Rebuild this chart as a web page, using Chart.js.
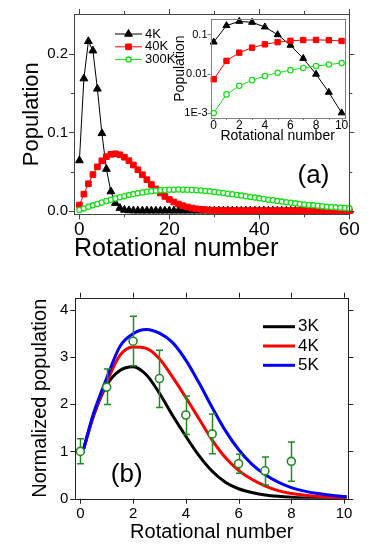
<!DOCTYPE html>
<html lang="en">
<head>
<meta charset="UTF-8">
<title>Rotational population</title>
<script src="https://cdn.jsdelivr.net/npm/chart.js"></script>
<style>
  body { margin: 0; background: #fff; }
  #figure { position: relative; width: 374px; height: 552px; overflow: hidden; }
  #figure canvas { position: absolute; }
  #chart-a { left: 0; top: 0; }
  #chart-inset { left: 165px; top: 5px; }
  #chart-b { left: 0; top: 276px; }
</style>
</head>
<body>
<div id="figure">
  <canvas id="chart-a" width="374" height="276"></canvas>
  <canvas id="chart-inset" width="185" height="145"></canvas>
  <canvas id="chart-b" width="374" height="276"></canvas>
</div>
<script>
// ---- panel (a): population of each rotational level J ----
const rotJ = [0, 1, 2, 3, 4, 5, 6, 7, 8, 9, 10, 11, 12, 13, 14, 15, 16, 17, 18, 19,
  20, 21, 22, 23, 24, 25, 26, 27, 28, 29, 30, 31, 32, 33, 34, 35, 36, 37, 38, 39,
  40, 41, 42, 43, 44, 45, 46, 47, 48, 49, 50, 51, 52, 53, 54, 55, 56, 57, 58, 59, 60];
const pop4K = [0.0641, 0.1687, 0.2163, 0.2044, 0.1556, 0.0988, 0.0532, 0.0245, 0.0097, 0.00335,
  0.0010, 0.0003, 0.0001, 0, 0, 0, 0, 0, 0, 0,
  0, 0, 0, 0, 0, 0, 0, 0, 0, 0, 0, 0, 0, 0, 0, 0, 0, 0, 0, 0,
  0, 0, 0, 0, 0, 0, 0, 0, 0, 0, 0, 0, 0, 0, 0, 0, 0, 0, 0, 0, 0];
const pop40K = [0.0072, 0.0212, 0.0344, 0.0461, 0.0560, 0.0637, 0.0690, 0.0720, 0.0727, 0.0714,
  0.0683, 0.0639, 0.0584, 0.0523, 0.0459, 0.0396, 0.0334, 0.0278, 0.0226, 0.0182,
  0.0143, 0.0111, 0.0085, 0.0064, 0.0047, 0.0034, 0.0024, 0.0017, 0.0012, 0.0008,
  0.0005, 0.0004, 0.0002, 0.0001, 0.0001, 0.0001, 0, 0, 0, 0,
  0, 0, 0, 0, 0, 0, 0, 0, 0, 0, 0, 0, 0, 0, 0, 0, 0, 0, 0, 0, 0];
const pop300K = [0.00099, 0.00296, 0.00491, 0.00683, 0.00871, 0.01055, 0.01232, 0.01402, 0.01564, 0.01717,
  0.0186, 0.0199, 0.0212, 0.0223, 0.0233, 0.0242, 0.0249, 0.0256, 0.0261, 0.0265,
  0.0267, 0.0269, 0.0270, 0.0269, 0.0268, 0.0265, 0.0262, 0.0257, 0.0252, 0.0247,
  0.0240, 0.0234, 0.0226, 0.0218, 0.0210, 0.0202, 0.0193, 0.0185, 0.0176, 0.0167,
  0.0158, 0.0150, 0.0141, 0.0133, 0.0124, 0.0116, 0.0109, 0.0101, 0.0094, 0.0087,
  0.0080, 0.0074, 0.0068, 0.0063, 0.0057, 0.0052, 0.0048, 0.0043, 0.0039, 0.0036, 0.0032];
const tempsA = ['4K', '40K', '300K'];
const insetCount = 11; // the inset shows J = 0..10 on a log scale

// ---- panel (b): measured vs. model, normalized to J = 0 ----
const measJ = [0, 1, 2, 3, 4, 5, 6, 7, 8];
const measPop = [1.00, 2.36, 3.33, 2.54, 1.77, 1.37, 0.74, 0.59, 0.79];
const measLow = [0.74, 1.99, 2.81, 1.93, 1.36, 0.95, 0.54, 0.29, 0.37];
const measHigh = [1.27, 2.74, 3.86, 3.14, 2.17, 1.79, 0.94, 0.88, 1.20];

const curveJ = [0.1, 0.5, 1, 1.5, 2, 2.5, 3, 3.5, 4, 4.5, 5, 5.5, 6, 6.5, 7, 7.5, 8, 8.5, 9, 9.5, 10, 10.1];
const curve3K = [1.00, 1.75, 2.40, 2.71, 2.79, 2.62, 2.23, 1.76, 1.32, 0.91, 0.58, 0.35, 0.21, 0.13, 0.08, 0.05, 0.03, 0.016, 0.009, 0.005, 0.003, 0.002];
const curve4K = [1.00, 1.77, 2.46, 3.03, 3.21, 3.18, 2.96, 2.57, 2.14, 1.69, 1.24, 0.87, 0.60, 0.41, 0.27, 0.17, 0.11, 0.075, 0.05, 0.03, 0.016, 0.013];
const curve5K = [1.00, 1.80, 2.55, 3.22, 3.49, 3.58, 3.50, 3.30, 2.93, 2.45, 1.93, 1.44, 1.04, 0.73, 0.51, 0.35, 0.235, 0.16, 0.11, 0.075, 0.048, 0.043];
const tempsB = ['3K', '4K', '5K'];

// ---- tick values ----
const aTicksX = [0, 20, 40, 60];
const aMinorX = [10, 30, 50];
const aTicksY = [0, 0.1, 0.2];
const aMinorY = [0.05, 0.15];
const insetTicksX = [0, 2, 4, 6, 8, 10];
const insetMinorX = [1, 3, 5, 7, 9];
const insetTicksY = [0.001, 0.01, 0.1];
const insetTickLabelsY = ['1E-3', '0.01', '0.1'];
const bTicksX = [0, 2, 4, 6, 8, 10];
const bTicksY = [0, 1, 2, 3, 4];

const FONT = '"Liberation Sans", Arial, sans-serif';
Chart.defaults.font.family = FONT;
Chart.defaults.color = '#000';

const pts = (xs, ys) => xs.map((x, i) => ({ x, y: ys[i] }));

// frame around the plot area with outward ticks (Origin style)
const frameTicks = {
  id: 'frameTicks',
  afterDatasetsDraw(chart, args, o) {
    const { ctx, chartArea: a } = chart;
    const sx = chart.scales.x, sy = chart.scales.y;
    const snap = v => Math.round(v) + 0.5;
    ctx.save();
    ctx.strokeStyle = o.color;
    ctx.lineWidth = 1;
    ctx.strokeRect(snap(a.left), snap(a.top), Math.round(a.right - a.left), Math.round(a.bottom - a.top));
    ctx.beginPath();
    const xt = (vals, len) => vals.forEach(v => {
      const p = snap(sx.getPixelForValue(v));
      ctx.moveTo(p, a.bottom); ctx.lineTo(p, a.bottom + len);
      if (o.mirror) { ctx.moveTo(p, a.top); ctx.lineTo(p, a.top - len); }
    });
    const yt = (vals, len) => vals.forEach(v => {
      const p = snap(sy.getPixelForValue(v));
      ctx.moveTo(a.left, p); ctx.lineTo(a.left - len, p);
      if (o.mirror) { ctx.moveTo(a.right, p); ctx.lineTo(a.right + len, p); }
    });
    xt(o.xMajor, o.major); xt(o.xMinor || [], o.minor);
    yt(o.yMajor, o.major); yt(o.yMinor || [], o.minor);
    ctx.stroke();
    ctx.restore();
  }
};

// legend drawn inside the plot, line sample with optional marker
const keyBox = {
  id: 'keyBox',
  afterDraw(chart, args, o) {
    const ctx = chart.ctx;
    ctx.save();
    ctx.font = o.font;
    ctx.textBaseline = 'middle';
    chart.data.datasets.forEach(ds => {
      if (ds.keyRow === undefined) return;
      const y = o.y + ds.keyRow * o.gap;
      ctx.strokeStyle = ds.borderColor;
      ctx.lineWidth = o.lineWidth;
      ctx.beginPath();
      ctx.moveTo(o.x, y); ctx.lineTo(o.x + o.len, y);
      ctx.stroke();
      if (o.markers) {
        ctx.fillStyle = ds.pointBackgroundColor;
        ctx.lineWidth = ds.pointBorderWidth || 1;
        Chart.helpers.drawPoint(ctx, { pointStyle: ds.pointStyle, radius: ds.pointRadius, rotation: 0, borderWidth: 1 }, o.x + o.len / 2, y);
      }
      ctx.fillStyle = '#000';
      ctx.fillText(ds.label, o.x + o.len + o.textGap, y);
    });
    ctx.restore();
  }
};

const panelTag = {
  id: 'panelTag',
  afterDraw(chart, args, o) {
    const ctx = chart.ctx;
    ctx.save();
    ctx.font = o.font;
    ctx.fillStyle = '#000';
    ctx.textAlign = 'center';
    ctx.fillText(o.text, o.x, o.y);
    ctx.restore();
  }
};

// vertical error bars with caps, drawn just under the measured points
const errorBars = {
  id: 'errorBars',
  beforeDatasetDraw(chart, args, o) {
    const ds = chart.data.datasets[args.index];
    if (!ds.errLow) return;
    const ctx = chart.ctx, sx = chart.scales.x, sy = chart.scales.y;
    ctx.save();
    ctx.strokeStyle = ds.borderColor;
    ctx.lineWidth = o.lineWidth;
    ctx.beginPath();
    ds.data.forEach((p, i) => {
      const x = Math.round(sx.getPixelForValue(p.x)) + 0.5;
      const y1 = sy.getPixelForValue(ds.errLow[i]);
      const y2 = sy.getPixelForValue(ds.errHigh[i]);
      ctx.moveTo(x, y1); ctx.lineTo(x, y2);
      ctx.moveTo(x - o.cap, y1); ctx.lineTo(x + o.cap, y1);
      ctx.moveTo(x - o.cap, y2); ctx.lineTo(x + o.cap, y2);
    });
    ctx.stroke();
    ctx.restore();
  }
};

// fix axis box sizes so the plot areas land where the figure has them
function fixedAxis(size, isX) {
  return scale => {
    if (isX) scale.height = size; else scale.width = size;
    scale.paddingLeft = scale.paddingRight = scale.paddingTop = scale.paddingBottom = 0;
  };
}
function setTicks(vals) {
  return scale => { scale.ticks = vals.map(v => ({ value: v })); };
}
const noGrid = { display: false, drawTicks: false };
const noBorder = { display: false };
const baseOptions = {
  responsive: false,
  animation: false,
  devicePixelRatio: 1,
  events: []
};

// ---- panel (a) ----
const colorsA = ['#000000', '#ff0000', '#14e014'];
new Chart(document.getElementById('chart-a'), {
  type: 'line',
  data: {
    datasets: [
      { label: tempsA[0], data: pts(rotJ, pop4K), borderColor: colorsA[0], pointBackgroundColor: colorsA[0],
        pointStyle: 'triangle', pointRadius: 4.5, borderWidth: 1, clip: false, order: 2, keyRow: 0 },
      { label: tempsA[1], data: pts(rotJ, pop40K), borderColor: colorsA[1], pointBackgroundColor: colorsA[1],
        pointStyle: 'rect', pointRadius: 4, borderWidth: 1, clip: false, order: 1, keyRow: 1 },
      { label: tempsA[2], data: pts(rotJ, pop300K), borderColor: colorsA[2], pointBackgroundColor: '#ffffff',
        pointStyle: 'circle', pointRadius: 2.6, pointBorderWidth: 1.3, borderWidth: 1, clip: false, order: 0, keyRow: 2 }
    ]
  },
  options: {
    ...baseOptions,
    layout: { padding: { top: 14, right: 24.7, left: 0, bottom: 0 } },
    scales: {
      x: {
        type: 'linear', min: -1.2, max: 60,
        grid: noGrid, border: noBorder,
        afterBuildTicks: setTicks(aTicksX), afterFit: fixedAxis(61.7, true),
        ticks: { padding: 4, font: { size: 19 } },
        title: { display: true, text: 'Rotational number', align: 'start', font: { size: 25 }, padding: { top: 0, bottom: 12 } }
      },
      y: {
        type: 'linear', min: -0.0046, max: 0.2512,
        grid: noGrid, border: noBorder,
        afterBuildTicks: setTicks(aTicksY), afterFit: fixedAxis(74, false),
        ticks: { padding: 6, font: { size: 15 }, callback: v => v.toFixed(1) },
        title: { display: true, text: 'Population', font: { size: 22 }, padding: { top: 18.5, bottom: 0 } }
      }
    },
    plugins: {
      legend: { display: false }, tooltip: { enabled: false },
      frameTicks: { color: '#444', mirror: true, major: 5, minor: 3, xMajor: aTicksX, xMinor: aMinorX, yMajor: aTicksY, yMinor: aMinorY },
      keyBox: { x: 115, y: 34, gap: 12.8, len: 27, textGap: 3, font: '13px ' + FONT, lineWidth: 1, markers: true },
      panelTag: { text: '(a)', x: 313.5, y: 183, font: '26px ' + FONT }
    }
  },
  plugins: [frameTicks, keyBox, panelTag]
});

// ---- inset of panel (a): log scale, J = 0..10 ----
const insetJ = rotJ.slice(0, insetCount);
new Chart(document.getElementById('chart-inset'), {
  type: 'line',
  data: {
    datasets: [
      { label: tempsA[0], data: pts(insetJ, pop4K.slice(0, insetCount)), borderColor: colorsA[0], pointBackgroundColor: colorsA[0],
        pointStyle: 'triangle', pointRadius: 4, borderWidth: 1, clip: false, order: 2 },
      { label: tempsA[1], data: pts(insetJ, pop40K.slice(0, insetCount)), borderColor: colorsA[1], pointBackgroundColor: colorsA[1],
        pointStyle: 'rect', pointRadius: 3.8, borderWidth: 1, clip: false, order: 1 },
      { label: tempsA[2], data: pts(insetJ, pop300K.slice(0, insetCount)), borderColor: colorsA[2], pointBackgroundColor: '#ffffff',
        pointStyle: 'circle', pointRadius: 2.7, pointBorderWidth: 1.2, borderWidth: 1, clip: false, order: 0 }
    ]
  },
  options: {
    ...baseOptions,
    layout: { padding: { top: 14.3, right: 5, left: 0, bottom: 0 } },
    scales: {
      x: {
        type: 'linear', min: -0.25, max: 10.25,
        grid: noGrid, border: noBorder,
        afterBuildTicks: setTicks(insetTicksX), afterFit: fixedAxis(32, true),
        ticks: { padding: 0, font: { size: 12 } },
        title: { display: true, text: 'Rotational number', font: { size: 14 }, padding: { top: 0, bottom: 5 } }
      },
      y: {
        type: 'logarithmic', min: 0.00074, max: 0.244,
        grid: noGrid, border: noBorder,
        afterBuildTicks: setTicks(insetTicksY), afterFit: fixedAxis(45.5, false),
        ticks: { padding: 3, font: { size: 11 }, callback: (v, i) => insetTickLabelsY[i] },
        title: { display: true, text: 'Population', font: { size: 14 }, padding: { top: 6.6, bottom: 0 } }
      }
    },
    plugins: {
      legend: { display: false }, tooltip: { enabled: false },
      frameTicks: { color: '#808080', mirror: false, major: 3, minor: 2, xMajor: insetTicksX, xMinor: insetMinorX, yMajor: insetTicksY }
    }
  },
  plugins: [frameTicks]
});

// ---- panel (b) ----
const colorsB = ['#000000', '#ff0000', '#0000ff'];
const curveSet = (i, ys) => ({
  label: tempsB[i], data: pts(curveJ, ys), borderColor: colorsB[i], borderWidth: 3,
  pointRadius: 0, cubicInterpolationMode: 'monotone', order: 3 - i, keyRow: i
});
new Chart(document.getElementById('chart-b'), {
  type: 'line',
  data: {
    datasets: [
      { label: 'measured', data: pts(measJ, measPop), errLow: measLow, errHigh: measHigh,
        showLine: false, borderColor: '#228b22', pointBackgroundColor: '#ffffff', pointBorderColor: '#228b22',
        pointStyle: 'circle', pointRadius: 4, pointBorderWidth: 1.6, clip: false, order: 0 },
      curveSet(0, curve3K),
      curveSet(1, curve4K),
      curveSet(2, curve5K)
    ]
  },
  options: {
    ...baseOptions,
    layout: { padding: { top: 21.7, right: 25.7, left: 0, bottom: 0 } },
    scales: {
      x: {
        type: 'linear', min: -0.19, max: 10.16,
        grid: noGrid, border: noBorder,
        afterBuildTicks: setTicks(bTicksX), afterFit: fixedAxis(53.3, true),
        ticks: { padding: 6, font: { size: 15 } },
        title: { display: true, text: 'Rotational number', font: { size: 20 }, padding: { top: 0, bottom: 7.3 } }
      },
      y: {
        type: 'linear', min: 0, max: 4.25,
        grid: noGrid, border: noBorder,
        afterBuildTicks: setTicks(bTicksY), afterFit: fixedAxis(75.3, false),
        ticks: { padding: 7, font: { size: 15 } },
        title: { display: true, text: 'Normalized population', font: { size: 20 }, padding: { top: 28, bottom: 0 } }
      }
    },
    plugins: {
      legend: { display: false }, tooltip: { enabled: false },
      frameTicks: { color: '#222', mirror: true, major: 5, minor: 3, xMajor: bTicksX, yMajor: bTicksY },
      errorBars: { lineWidth: 1.5, cap: 3.5 },
      keyBox: { x: 263, y: 50.7, gap: 19.3, len: 32, textGap: 3, font: '17px ' + FONT, lineWidth: 3, markers: false },
      panelTag: { text: '(b)', x: 126.7, y: 205.5, font: '26px ' + FONT }
    }
  },
  plugins: [frameTicks, errorBars, keyBox, panelTag]
});
</script>
</body>
</html>
